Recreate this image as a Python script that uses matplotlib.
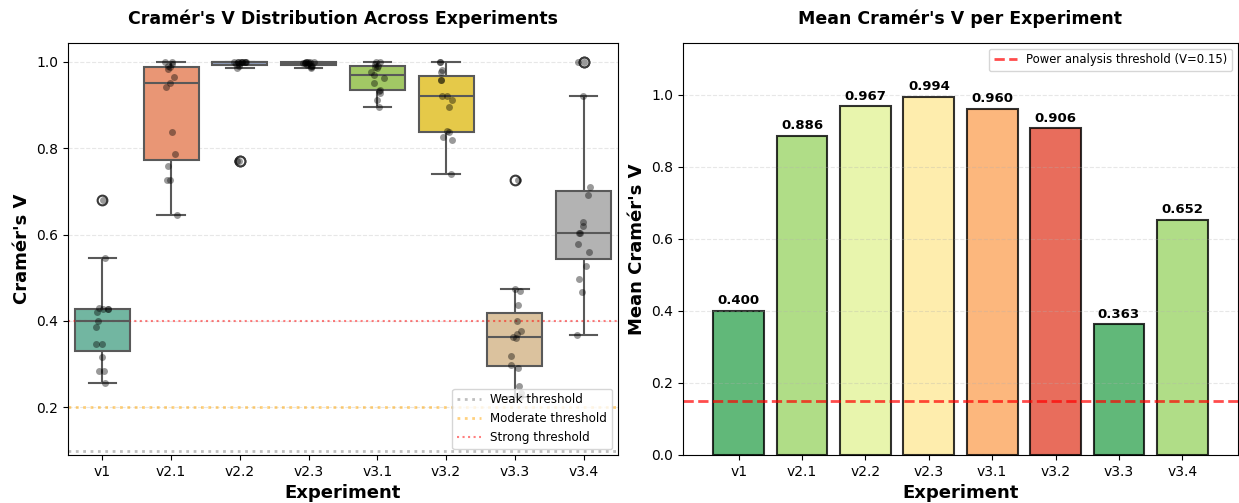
import matplotlib
matplotlib.use("Agg")
import matplotlib.pyplot as plt
import seaborn as sns
import numpy as np
import pandas as pd

# experiment names
experiments = ['v1', 'v2.1', 'v2.2', 'v2.3', 'v3.1', 'v3.2', 'v3.3', 'v3.4']

# Cramér's V values per experiment
v1 = [0.68, 0.546, 0.43, 0.428, 0.428, 0.428, 0.42, 0.40, 0.387,
      0.347, 0.347, 0.316, 0.285, 0.285, 0.256]
v2_1 = [1.0, 1.0, 0.995, 0.99, 0.987, 0.983, 0.965, 0.950, 0.942,
        0.838, 0.787, 0.759, 0.726, 0.726, 0.645]
v2_2 = [1.0, 1.0, 1.0, 1.0, 1.0, 1.0, 1.0, 1.0, 1.0,
        0.995, 0.995, 0.99, 0.985, 0.77, 0.77]
v2_3 = [1.0, 1.0, 1.0, 1.0, 0.998, 0.997, 0.996, 0.996, 0.996,
        0.995, 0.992, 0.99, 0.989, 0.988, 0.985]
v3_1 = [1.0, 1.0, 0.995, 0.99, 0.988, 0.985, 0.975, 0.969, 0.962,
        0.95, 0.935, 0.932, 0.927, 0.91, 0.896]
v3_2 = [1.0, 1.0, 0.981, 0.975, 0.958, 0.958, 0.921, 0.921, 0.911,
        0.894, 0.84, 0.836, 0.825, 0.818, 0.739]
v3_3 = [0.726, 0.475, 0.47, 0.438, 0.399, 0.376, 0.37, 0.364, 0.36,
        0.318, 0.299, 0.292, 0.25, 0.233, 0.225]
v3_4 = [1.0, 1.0, 0.921, 0.71, 0.691, 0.63, 0.62, 0.604, 0.604,
        0.579, 0.559, 0.528, 0.496, 0.466, 0.368]

# mean per experiment (bar chart)
mean_v = [0.400, 0.886, 0.967, 0.994, 0.960, 0.906, 0.363, 0.652]

all_vals = [v1, v2_1, v2_2, v2_3, v3_1, v3_2, v3_3, v3_4]
rows = []
for name, vals in zip(experiments, all_vals):
    for v in vals:
        rows.append({'Experiment': name, 'cv': v})
df = pd.DataFrame(rows)

np.random.seed(3)

fig, (ax1, ax2) = plt.subplots(1, 2, figsize=(12.39, 5.03), dpi=100)

# --- left: box + strip
sns.boxplot(data=df, x='Experiment', y='cv', hue='Experiment', palette='Set2',
            legend=False, linewidth=1.5, ax=ax1,
            flierprops=dict(marker='o', markerfacecolor='white',
                            markeredgecolor='#3a3a3a', markersize=7,
                            markeredgewidth=1.5))
sns.stripplot(data=df, x='Experiment', y='cv', color='black', alpha=0.4,
              size=5, jitter=True, ax=ax1)
ax1.axhline(0.1, color='gray', linestyle=':', linewidth=2, alpha=0.5, label='Weak threshold')
ax1.axhline(0.2, color='orange', linestyle=':', linewidth=2, alpha=0.5, label='Moderate threshold')
ax1.axhline(0.4, color='red', linestyle=':', linewidth=1.5, alpha=0.5, label='Strong threshold')
ax1.set_ylim(0.09, 1.043)
ax1.set_title("Cramér's V Distribution Across Experiments", fontsize=12.5, fontweight='bold', pad=14)
ax1.set_xlabel('Experiment', fontsize=13, fontweight='bold')
ax1.set_ylabel("Cramér's V", fontsize=13, fontweight='bold')
ax1.legend(loc='lower right', fontsize=8.6)
ax1.grid(axis='y', alpha=0.3, linestyle='--')

# --- right: mean bars
pal = sns.color_palette('RdYlGn_r', 6)
bar_colors = [pal[i % 6] for i in range(len(experiments))]
bars = ax2.bar(experiments, mean_v, color=bar_colors, alpha=0.8,
               edgecolor='black', linewidth=1.5)
for bar, val in zip(bars, mean_v):
    ax2.text(bar.get_x() + bar.get_width() / 2, bar.get_height() + 0.01,
             f'{val:.3f}', ha='center', va='bottom', fontweight='bold', fontsize=9.5)
ax2.axhline(0.15, color='red', linestyle='--', linewidth=2, alpha=0.7,
            label='Power analysis threshold (V=0.15)')
ax2.set_xlim(-0.88, 7.88)
ax2.set_ylim(0, max(mean_v) * 1.15)
ax2.set_title("Mean Cramér's V per Experiment", fontsize=12.5, fontweight='bold', pad=14)
ax2.set_xlabel('Experiment', fontsize=13, fontweight='bold')
ax2.set_ylabel("Mean Cramér's V", fontsize=13, fontweight='bold')
ax2.legend(loc='upper right', fontsize=8.4)
ax2.grid(axis='y', alpha=0.3, linestyle='--')

W, H = 1239, 503
ax1.set_position([68 / W, 1 - 455 / H, (618 - 68) / W, (455 - 43) / H])
ax2.set_position([683 / W, 1 - 455 / H, (1238 - 683) / W, (455 - 43) / H])

fig.savefig('out.png', dpi=100)
